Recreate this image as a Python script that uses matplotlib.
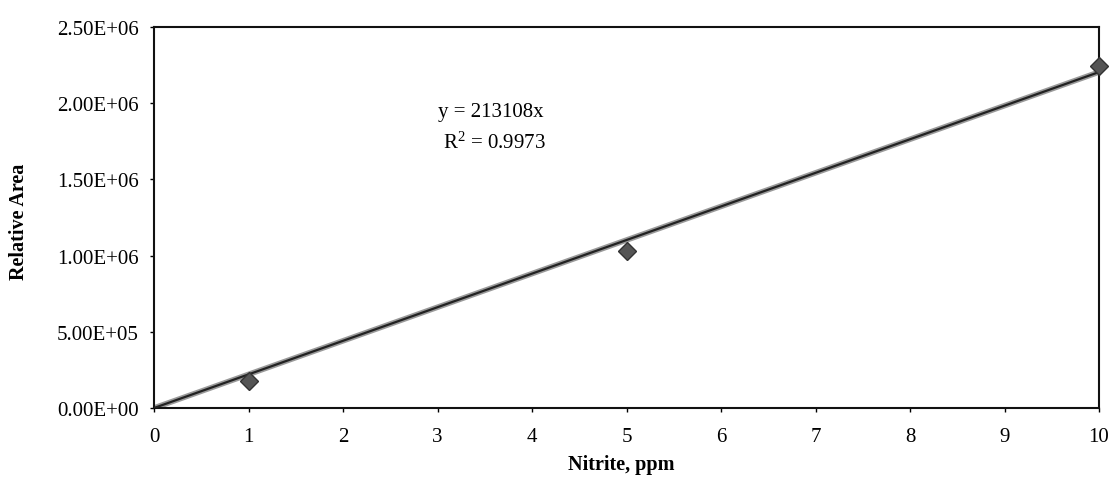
import numpy as np
import matplotlib
matplotlib.use('Agg')
from matplotlib import pyplot as plt

# nitrite calibration points
nitrite_ppm = [1, 5, 10]
relative_area = [1.78e5, 1.033e6, 2.243e6]
x_ticks = list(range(0, 11))
y_ticks = [0, 5e5, 1e6, 1.5e6, 2e6, 2.5e6]
y_tick_labels = ['0.00E+00', '5.00E+05', '1.00E+06', '1.50E+06', '2.00E+06', '2.50E+06']
eq_line = 'y = 213108x'
r2_line = '$\\mathregular{R^2}$ = 0.9973'

plt.rcParams['font.family'] = ['Liberation Serif', 'DejaVu Serif']

W, H = 1112, 485
fig = plt.figure(figsize=(W / 100, H / 100), dpi=100)
# plot area in pixels: left 154, right 1099, top 28, bottom 409
ax = fig.add_axes([154 / W, 1 - 409 / H, 945 / W, 381 / H])

x = np.array(nitrite_ppm, dtype=float)
y = np.array(relative_area)
# trendline forced through origin
slope = np.sum(x * y) / np.sum(x * x)
xl = np.array([0, 10])
ax.plot(xl, slope * xl, color='#9a9a9a', lw=4, solid_capstyle='butt', zorder=2)
ax.plot(xl, slope * xl, color='#222222', lw=1.6, zorder=3)
ax.plot(x, y, linestyle='none', marker='D', markersize=9, color='#555555',
        markeredgecolor='#333333', zorder=4, clip_on=False)

ax.set_xlim(0, 10)
ax.set_ylim(0, 2.5e6)
ax.set_xticks(x_ticks)
ax.set_yticks(y_ticks)
ax.set_yticklabels(y_tick_labels)
ax.tick_params(axis='both', direction='out', length=3, width=1, labelsize=15)
ax.tick_params(axis='x', pad=11)
ax.tick_params(axis='y', pad=8)
for s in ax.spines.values():
    s.set_linewidth(1.5)
    s.set_color('#111111')

fig.text(438 / W, 1 - 113 / H, eq_line, fontsize=15, va='center', ha='left')
fig.text(443 / W, 1 - 143 / H, r2_line, fontsize=15, va='center', ha='left')

fig.text(621 / W, 1 - 465 / H, 'Nitrite, ppm', fontsize=14.5, fontweight='bold',
         ha='center', va='center')
fig.text(19 / W, 1 - 222 / H, 'Relative Area', fontsize=14.5, fontweight='bold',
         ha='center', va='center', rotation=90)

plt.savefig('out.png', dpi=100)
